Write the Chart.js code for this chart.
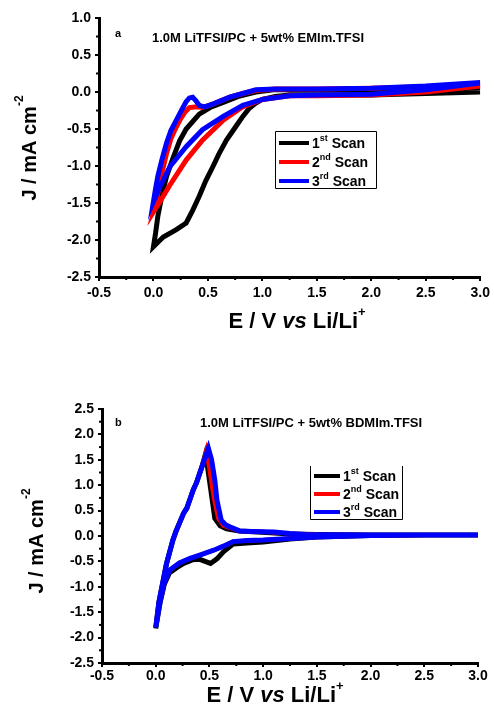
<!DOCTYPE html>
<html>
<head>
<meta charset="utf-8">
<script src="https://cdn.jsdelivr.net/npm/chart.js@4.4.1/dist/chart.umd.min.js"></script>
<style>
  body { margin: 0; background: #fff; }
  canvas { display: block; }
</style>
</head>
<body>
<canvas id="chartA" width="494" height="353"></canvas>
<canvas id="chartB" width="494" height="353"></canvas>
<script>
// scan labels
const scanNums = ['1', '2', '3'];
const scanSups = ['st', 'nd', 'rd'];
const scanColors = ['#000000', '#ff0000', '#0000ff'];

// axis ticks
const xTicks = [-0.5, 0.0, 0.5, 1.0, 1.5, 2.0, 2.5, 3.0];
const yTicksA = [-2.5, -2.0, -1.5, -1.0, -0.5, 0.0, 0.5, 1.0];
const yTicksB = [-2.5, -2.0, -1.5, -1.0, -0.5, 0.0, 0.5, 1.0, 1.5, 2.0, 2.5];

// panel a : 1.0M LiTFSI/PC + 5wt% EMIm.TFSI  (sweep 3.0 -> 0 -> 3.0 V)
const a1E = [3.0, 2.5, 2.0, 1.5, 1.25, 1.12, 1.0, 0.94, 0.88, 0.82, 0.75, 0.67, 0.6, 0.545, 0.48, 0.42, 0.36, 0.30, 0.21, 0.09, 0.0,
             0.02, 0.04, 0.08, 0.12, 0.18, 0.24, 0.30, 0.42, 0.52, 0.64, 0.78, 0.94, 1.1, 1.5, 2.0, 2.5, 3.0];
const a1J = [0.0, -0.02, -0.04, -0.04, -0.04, -0.06, -0.1, -0.15, -0.22, -0.33, -0.48, -0.65, -0.84, -1.01, -1.2, -1.41, -1.6, -1.77, -1.86, -1.96, -2.09,
             -1.9, -1.68, -1.38, -1.14, -0.89, -0.66, -0.5, -0.3, -0.21, -0.14, -0.06, 0.0, 0.03, 0.03, 0.03, 0.05, 0.06];
const a2E = [3.0, 2.5, 2.0, 1.5, 1.25, 1.0, 0.82, 0.64, 0.45, 0.30, 0.15, 0.06, 0.0,
             0.02, 0.04, 0.08, 0.12, 0.16, 0.21, 0.25, 0.29, 0.33, 0.40, 0.45, 0.55, 0.70, 0.82, 0.94, 1.12, 1.5, 2.0, 2.5, 3.0];
const a2J = [0.08, 0.0, -0.04, -0.05, -0.05, -0.1, -0.2, -0.38, -0.65, -0.92, -1.26, -1.48, -1.62,
             -1.5, -1.37, -1.08, -0.83, -0.63, -0.47, -0.36, -0.27, -0.21, -0.2, -0.21, -0.16, -0.07, -0.02, 0.02, 0.04, 0.04, 0.05, 0.07, 0.1];
const a3E = [3.0, 2.5, 2.0, 1.5, 1.25, 1.0, 0.82, 0.64, 0.45, 0.30, 0.15, 0.06, 0.0,
             0.02, 0.04, 0.08, 0.12, 0.16, 0.21, 0.26, 0.30, 0.33, 0.36, 0.39, 0.42, 0.47, 0.55, 0.70, 0.82, 0.94, 1.12, 1.5, 2.0, 2.5, 3.0];
const a3J = [0.12, 0.03, -0.03, -0.04, -0.05, -0.1, -0.18, -0.33, -0.51, -0.74, -1.01, -1.28, -1.48,
             -1.3, -1.14, -0.9, -0.69, -0.52, -0.38, -0.24, -0.13, -0.08, -0.07, -0.12, -0.18, -0.2, -0.16, -0.07, -0.02, 0.03, 0.04, 0.04, 0.05, 0.08, 0.13];

// panel b : 1.0M LiTFSI/PC + 5wt% BDMIm.TFSI
const b1E = [3.0, 2.5, 2.0, 1.5, 1.25, 1.0, 0.85, 0.72, 0.63, 0.57, 0.51, 0.46, 0.41, 0.34, 0.26, 0.2, 0.13, 0.08, 0.04, 0.0,
             0.03, 0.07, 0.10, 0.16, 0.19, 0.26, 0.29, 0.35, 0.38, 0.43, 0.46, 0.48, 0.52, 0.55, 0.6, 0.66, 0.78, 1.03, 1.25, 1.5, 2.0, 2.5, 3.0];
const b1J = [0.02, 0.02, 0.01, -0.02, -0.06, -0.12, -0.14, -0.16, -0.31, -0.45, -0.54, -0.5, -0.46, -0.47, -0.54, -0.62, -0.72, -0.95, -1.32, -1.82,
             -1.3, -0.87, -0.55, -0.08, 0.1, 0.45, 0.55, 0.91, 1.05, 1.36, 1.59, 1.4, 0.8, 0.35, 0.2, 0.14, 0.1, 0.07, 0.04, 0.03, 0.02, 0.02, 0.02];
const b2E = [3.0, 2.5, 2.0, 1.5, 1.25, 1.0, 0.85, 0.72, 0.63, 0.54, 0.43, 0.32, 0.22, 0.13, 0.08, 0.04, 0.0,
             0.03, 0.07, 0.10, 0.16, 0.19, 0.26, 0.29, 0.35, 0.38, 0.43, 0.47, 0.50, 0.54, 0.58, 0.63, 0.7, 0.78, 1.03, 1.25, 1.5, 2.0, 2.5, 3.0];
const b2J = [0.02, 0.02, 0.01, -0.02, -0.05, -0.08, -0.09, -0.11, -0.2, -0.28, -0.36, -0.44, -0.53, -0.67, -0.92, -1.3, -1.78,
             -1.3, -0.87, -0.55, -0.08, 0.1, 0.45, 0.55, 0.91, 1.05, 1.36, 1.68, 1.3, 0.75, 0.35, 0.2, 0.15, 0.1, 0.08, 0.05, 0.03, 0.02, 0.02, 0.02];
const b3E = [3.0, 2.5, 2.0, 1.5, 1.25, 1.0, 0.85, 0.72, 0.63, 0.54, 0.43, 0.32, 0.22, 0.13, 0.08, 0.04, 0.0,
             0.03, 0.07, 0.10, 0.16, 0.19, 0.26, 0.29, 0.35, 0.38, 0.43, 0.49, 0.52, 0.55, 0.57, 0.61, 0.65, 0.69, 0.78, 0.9, 1.1, 1.25, 1.4, 2.0, 2.5, 3.0];
const b3J = [0.02, 0.02, 0.01, -0.02, -0.05, -0.08, -0.09, -0.11, -0.2, -0.28, -0.36, -0.44, -0.53, -0.67, -0.92, -1.3, -1.8,
             -1.3, -0.87, -0.55, -0.08, 0.1, 0.45, 0.55, 0.91, 1.05, 1.36, 1.73, 1.5, 1.1, 0.71, 0.31, 0.22, 0.18, 0.1, 0.09, 0.08, 0.05, 0.03, 0.02, 0.02, 0.02];

const FONT = '"Liberation Sans", Arial, sans-serif';

function pts(E, J) {
  return E.map((e, i) => ({ x: e, y: J[i] }));
}

function makeDatasets(series, widths) {
  return series.map((s, i) => ({
    label: scanNums[i] + scanSups[i] + ' Scan',
    data: pts(s[0], s[1]),
    borderColor: scanColors[i],
    backgroundColor: scanColors[i],
    borderWidth: widths[i],
    pointRadius: 0,
    showLine: true,
    tension: 0,
    order: 3 - i
  }));
}

// text made of pieces (superscripts, italics)
function richWidth(ctx, parts) {
  let w = 0;
  parts.forEach(p => {
    ctx.font = (p.italic ? 'italic ' : '') + 'bold ' + p.size + 'px ' + FONT;
    w += ctx.measureText(p.t).width;
  });
  return w;
}
function drawRich(ctx, parts, x, y) {
  parts.forEach(p => {
    ctx.font = (p.italic ? 'italic ' : '') + 'bold ' + p.size + 'px ' + FONT;
    ctx.fillText(p.t, x, y + (p.dy || 0));
    x += ctx.measureText(p.t).width;
  });
}

const decor = {
  id: 'decor',
  afterDraw(chart, args, o) {
    const ctx = chart.ctx;
    const xs = chart.scales.x, ys = chart.scales.y;
    ctx.save();
    ctx.strokeStyle = '#000';
    ctx.lineWidth = 2;
    // minor ticks
    for (let v = xs.min + 0.25; v < xs.max; v += 0.5) {
      const p = xs.getPixelForValue(v);
      ctx.beginPath(); ctx.moveTo(p, xs.top); ctx.lineTo(p, xs.top + 3); ctx.stroke();
    }
    for (let v = ys.min + 0.25; v < ys.max; v += 0.5) {
      const p = ys.getPixelForValue(v);
      ctx.beginPath(); ctx.moveTo(ys.right, p); ctx.lineTo(ys.right - 3, p); ctx.stroke();
    }

    ctx.fillStyle = '#000';
    ctx.textBaseline = 'middle';
    ctx.textAlign = 'left';
    // panel letter and title
    ctx.font = 'bold 11px ' + FONT;
    ctx.fillText(o.letter, o.letterX, o.letterY);
    ctx.font = 'bold 13px ' + FONT;
    ctx.fillText(o.title, o.titleX, o.titleY);

    // legend box
    const L = o.legend;
    ctx.lineWidth = 1;
    ctx.beginPath();
    if (o.legendTop) {
      ctx.rect(L.x + 0.5, L.y + 0.5, L.w, L.h);
    } else {
      ctx.moveTo(L.x + 0.5, L.y); ctx.lineTo(L.x + 0.5, L.y + L.h + 0.5);
      ctx.lineTo(L.x + L.w + 0.5, L.y + L.h + 0.5); ctx.lineTo(L.x + L.w + 0.5, L.y);
    }
    ctx.stroke();
    chart.data.datasets.forEach((d, i) => {
      const y = L.y + L.row0 + i * L.rowH;
      ctx.strokeStyle = d.borderColor;
      ctx.lineWidth = 4;
      ctx.beginPath(); ctx.moveTo(L.x + 4, y); ctx.lineTo(L.x + L.lineLen, y); ctx.stroke();
      ctx.fillStyle = '#000';
      drawRich(ctx, [
        { t: scanNums[i], size: 14 },
        { t: scanSups[i], size: 9, dy: -5 },
        { t: ' Scan', size: 14 }
      ], L.x + L.lineLen + 3, y + 1);
    });

    // x axis title
    const xParts = [
      { t: 'E / V ', size: o.xSize },
      { t: 'vs', size: o.xSize, italic: true },
      { t: ' Li/Li', size: o.xSize },
      { t: '+', size: 13, dy: -10 }
    ];
    const xw = richWidth(ctx, xParts);
    drawRich(ctx, xParts, o.xTitleX - xw / 2, o.xTitleY);

    // y axis title
    const yParts = [
      { t: 'J / mA cm', size: o.ySize },
      { t: '-2', size: 12, dy: -10 }
    ];
    ctx.translate(o.yTitleX, o.yTitleY);
    ctx.rotate(-Math.PI / 2);
    const yw = richWidth(ctx, yParts);
    drawRich(ctx, yParts, -yw / 2, 0);
    ctx.restore();
  }
};

function axes(yTicks, yWidth, xHeight, xPad) {
  const tickFont = { family: FONT, size: 14, weight: 'bold' };
  return {
    x: {
      type: 'linear',
      min: xTicks[0],
      max: xTicks[xTicks.length - 1],
      afterBuildTicks: s => { s.ticks = xTicks.map(v => ({ value: v })); },
      ticks: { color: '#000', font: tickFont, padding: xPad, maxRotation: 0, autoSkip: false,
               callback: v => Number(v).toFixed(1) },
      grid: { drawOnChartArea: false, drawTicks: true, tickLength: 4, color: '#000', lineWidth: 2 },
      border: { color: '#000', width: 3 },
      afterFit: s => { s.height = xHeight; }
    },
    y: {
      type: 'linear',
      min: yTicks[0],
      max: yTicks[yTicks.length - 1],
      afterBuildTicks: s => { s.ticks = yTicks.map(v => ({ value: v })); },
      ticks: { color: '#000', font: tickFont, padding: 4, autoSkip: false,
               callback: v => Number(v).toFixed(1) },
      grid: { drawOnChartArea: false, drawTicks: true, tickLength: 4, color: '#000', lineWidth: 2 },
      border: { color: '#000', width: 3 },
      afterFit: s => { s.width = yWidth; }
    }
  };
}

new Chart(document.getElementById('chartA'), {
  type: 'scatter',
  data: { datasets: makeDatasets([[a1E, a1J], [a2E, a2J], [a3E, a3J]], [5, 5, 5]) },
  options: {
    responsive: false,
    animation: false,
    layout: { padding: { left: 0, top: 18, right: 12, bottom: 0 } },
    scales: axes(yTicksA, 99, 76, 4),
    plugins: {
      legend: { display: false },
      tooltip: { enabled: false },
      decor: {
        letter: 'a', letterX: 115, letterY: 34,
        title: '1.0M LiTFSI/PC + 5wt% EMIm.TFSI', titleX: 152, titleY: 38,
        legend: { x: 275, y: 131, w: 101, h: 57, row0: 12, rowH: 19, lineLen: 34 },
        legendTop: true,
        xTitleX: 297, xTitleY: 322, xSize: 22,
        yTitleX: 30, yTitleY: 148, ySize: 20
      }
    }
  },
  plugins: [decor]
});

new Chart(document.getElementById('chartB'), {
  type: 'scatter',
  data: { datasets: makeDatasets([[b1E, b1J], [b2E, b2J], [b3E, b3J]], [5, 4, 5]) },
  options: {
    responsive: false,
    animation: false,
    layout: { padding: { left: 0, top: 56, right: 16, bottom: 0 } },
    scales: axes(yTicksB, 102, 43, 1),
    plugins: {
      legend: { display: false },
      tooltip: { enabled: false },
      decor: {
        letter: 'b', letterX: 115, letterY: 70,
        title: '1.0M LiTFSI/PC + 5wt% BDMIm.TFSI', titleX: 200, titleY: 70,
        legend: { x: 310, y: 113, w: 92, h: 53, row0: 10, rowH: 18, lineLen: 30 },
        legendTop: false,
        xTitleX: 275, xTitleY: 343, xSize: 22,
        yTitleX: 37, yTitleY: 188, ySize: 20
      }
    }
  },
  plugins: [decor]
});
</script>
</body>
</html>
